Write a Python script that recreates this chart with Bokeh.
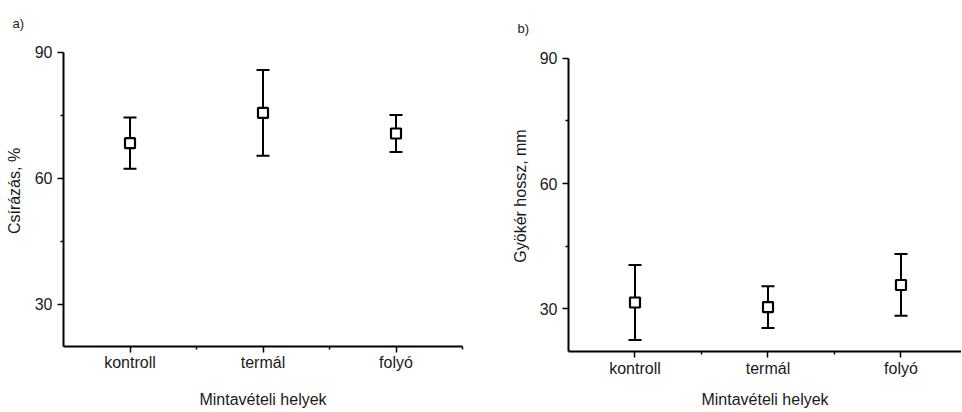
from bokeh.plotting import figure
from bokeh.models import FixedTicker, ColumnDataSource, Whisker, TeeHead
from bokeh.embed import file_html
from bokeh.resources import INLINE

categories = ["kontroll", "termál", "folyó"]
positions = [1, 2, 3]

# panel a: Csírázás, %
germ_mean = [68.4, 75.6, 70.7]
germ_err = [6.1, 10.2, 4.4]

# panel b: Gyökér hossz, mm
root_mean = [31.5, 30.4, 35.7]
root_err = [9.0, 5.0, 7.4]

y_ticks = [30, 60, 90]
y_minor = [45, 75]
x_minor = [1.5, 2.5, 3.5]
x_title = "Mintavételi helyek"

FONT = "Liberation Sans"
TXT = "#1a1a1a"
H = 410


def make_panel(title, ylabel, means, errs, width, x_end, y_range,
               mb_left, mb_right, mb_top, mb_bottom, title_offset, title_standoff,
               xtick_standoff, xlabel_standoff, ylabel_standoff):
    p = figure(width=width, height=H, x_range=(0.5, x_end), y_range=y_range,
               output_backend="svg", toolbar_location=None,
               min_border_left=mb_left, min_border_right=mb_right,
               min_border_top=mb_top, min_border_bottom=mb_bottom,
               styles={"float": "left"})
    p.title.text = title
    p.title.align = "left"
    p.title.offset = title_offset
    p.title.standoff = title_standoff
    p.title.text_font = FONT
    p.title.text_font_size = "13px"
    p.title.text_font_style = "normal"
    p.title.text_color = TXT
    p.outline_line_color = None
    p.xgrid.visible = False
    p.ygrid.visible = False
    p.background_fill_color = "white"
    p.border_fill_color = "white"

    lower = [m - e for m, e in zip(means, errs)]
    upper = [m + e for m, e in zip(means, errs)]
    src = ColumnDataSource(dict(x=positions, y=means, lower=lower, upper=upper))
    w = Whisker(source=src, base="x", lower="lower", upper="upper",
                line_color="black", line_width=2,
                lower_head=TeeHead(size=13, line_color="black", line_width=2),
                upper_head=TeeHead(size=13, line_color="black", line_width=2))
    p.add_layout(w)
    p.scatter("x", "y", source=src, marker="square", size=10,
              fill_color="white", line_color="black", line_width=2.2)

    p.xaxis.ticker = FixedTicker(ticks=positions, minor_ticks=x_minor)
    p.xaxis.major_label_overrides = {pos: c for pos, c in zip(positions, categories)}
    p.yaxis.ticker = FixedTicker(ticks=y_ticks, minor_ticks=y_minor)
    p.yaxis.bounds = (y_range[0], 90)
    for ax in (p.xaxis[0], p.yaxis[0]):
        ax.axis_line_width = 2
        ax.axis_line_color = "black"
        ax.major_tick_line_width = 1.5
        ax.minor_tick_line_width = 1.5
        ax.major_tick_out = 6
        ax.major_tick_in = 0
        ax.minor_tick_out = 3
        ax.minor_tick_in = 0
        ax.major_label_text_font = FONT
        ax.major_label_text_font_size = "16px"
        ax.major_label_text_color = TXT
        ax.axis_label_text_font = FONT
        ax.axis_label_text_font_size = "16px"
        ax.axis_label_text_font_style = "normal"
        ax.axis_label_text_color = TXT
    p.xaxis.axis_label = x_title
    p.yaxis.axis_label = ylabel
    p.xaxis.major_label_standoff = xtick_standoff
    p.xaxis.axis_label_standoff = xlabel_standoff
    p.yaxis.major_label_standoff = 5
    p.yaxis.axis_label_standoff = ylabel_standoff
    return p


pa = make_panel("a)", "Csírázás, %", germ_mean, germ_err, width=480, x_end=3.5,
                y_range=(20, 94.034),
                mb_left=63, mb_right=18, mb_top=35, mb_bottom=63,
                title_offset=-51, title_standoff=10,
                xtick_standoff=1, xlabel_standoff=17, ylabel_standoff=9)
pb = make_panel("b)", "Gyökér hossz, mm", root_mean, root_err, width=481, x_end=3.455,
                y_range=(19.762, 94.286),
                mb_left=88, mb_right=0, mb_top=40, mb_bottom=57,
                title_offset=-51, title_standoff=10,
                xtick_standoff=2, xlabel_standoff=11, ylabel_standoff=8)

open("out.html", "w").write(file_html([pa, pb], INLINE))
